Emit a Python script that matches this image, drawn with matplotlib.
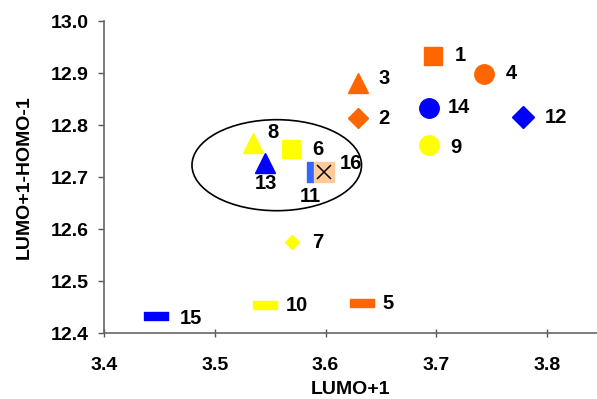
import matplotlib
matplotlib.use("Agg")
import matplotlib.pyplot as plt
from matplotlib.patches import Ellipse
from matplotlib.path import Path

plt.rcParams['font.family'] = ['Liberation Sans', 'DejaVu Sans']
plt.rcParams['font.weight'] = 'bold'

# Compound data: id, LUMO+1, LUMO+1-HOMO-1
labels = ["1", "2", "3", "4", "5", "6", "7", "8", "9", "10", "11", "12", "13", "14", "15", "16"]
lumo1 = [3.697, 3.629, 3.629, 3.743, 3.633, 3.569, 3.570, 3.535, 3.693, 3.545, 3.586, 3.778, 3.545, 3.693, 3.447, 3.599]
gap = [12.933, 12.813, 12.882, 12.899, 12.458, 12.754, 12.575, 12.765, 12.762, 12.454, 12.710, 12.815, 12.728, 12.833, 12.433, 12.710]

ORANGE = "#FF6600"
YELLOW = "#FFFF00"
BLUE = "#0000FF"
ROYAL = "#3366FF"
PEACH = "#FFCC99"

dash = Path([(-1, -0.3), (1, -0.3), (1, 0.3), (-1, 0.3), (-1, -0.3)],
            [Path.MOVETO, Path.LINETO, Path.LINETO, Path.LINETO, Path.CLOSEPOLY])
bar = Path([(-0.35, -1), (0.35, -1), (0.35, 1), (-0.35, 1), (-0.35, -1)],
           [Path.MOVETO, Path.LINETO, Path.LINETO, Path.LINETO, Path.CLOSEPOLY])

# marker, colour, size, label offset (points)
styles = {
    "1": ("s", ORANGE, 13.5, (20, 0)),
    "2": ("D", ORANGE, 10, (19, 0)),
    "3": ("^", ORANGE, 15, (19, 3)),
    "4": ("o", ORANGE, 14, (20, 0)),
    "5": (dash, ORANGE, 17, (19, 0)),
    "6": ("s", YELLOW, 13.5, (19, 0)),
    "7": ("D", YELLOW, 7.5, (18, 0)),
    "8": ("^", YELLOW, 15, (14, 8)),
    "9": ("o", YELLOW, 14, (20, -2)),
    "10": (dash, YELLOW, 17, (23, 0)),
    "11": (bar, ROYAL, 14, (0, -18)),
    "12": ("D", BLUE, 11, (24, 0)),
    "13": ("^", BLUE, 15, (1, -15)),
    "14": ("o", BLUE, 14, (22, 0)),
    "15": (dash, BLUE, 17, (25, -2)),
    "16": ("s", PEACH, 14.5, (19, 6)),
}

fig = plt.figure(figsize=(5.97, 3.99), dpi=100)
ax = fig.add_axes([0.174, 0.165, 0.826, 0.782])

ax.add_patch(Ellipse((3.556, 12.723), 0.153, 0.175, fill=False,
                     edgecolor="black", linewidth=1.2, zorder=1))

for lab, x, y in zip(labels, lumo1, gap):
    m, c, s, off = styles[lab]
    ax.plot([x], [y], linestyle="none", marker=m, markersize=s,
            markerfacecolor=c, markeredgecolor=c, zorder=3)
    ax.annotate(lab, (x, y), xytext=off, textcoords="offset points",
                ha="center", va="center", fontsize=14.5, fontweight="bold",
                zorder=4)
    if lab == "16":
        ax.plot([x], [y], linestyle="none", marker="x", markersize=10,
                markeredgecolor="black", markeredgewidth=1.1, zorder=4)

ax.set_xlim(3.4, 3.845)
ax.set_ylim(12.4, 13.0)
ax.set_xticks([3.4, 3.5, 3.6, 3.7, 3.8])
ax.set_yticks([12.4, 12.5, 12.6, 12.7, 12.8, 12.9, 13.0])
ax.set_xticklabels(["3.4", "3.5", "3.6", "3.7", "3.8"])
ax.set_yticklabels(["12.4", "12.5", "12.6", "12.7", "12.8", "12.9", "13.0"])
ax.tick_params(axis="x", direction="inout", length=6, width=1, color="#555555",
               labelsize=14, pad=14)
ax.tick_params(axis="y", direction="out", length=4, width=1, color="#555555",
               labelsize=14, pad=7)
for t in ax.get_xticklabels() + ax.get_yticklabels():
    t.set_fontweight("bold")

for side in ("top", "right"):
    ax.spines[side].set_visible(False)
for side in ("left", "bottom"):
    ax.spines[side].set_color("#666666")
    ax.spines[side].set_linewidth(1.2)

ax.set_xlabel("LUMO+1", fontsize=14, fontweight="bold", labelpad=5)
ax.set_ylabel("LUMO+1-HOMO-1", fontsize=14, fontweight="bold", labelpad=13)

fig.savefig("out.png", dpi=100)
